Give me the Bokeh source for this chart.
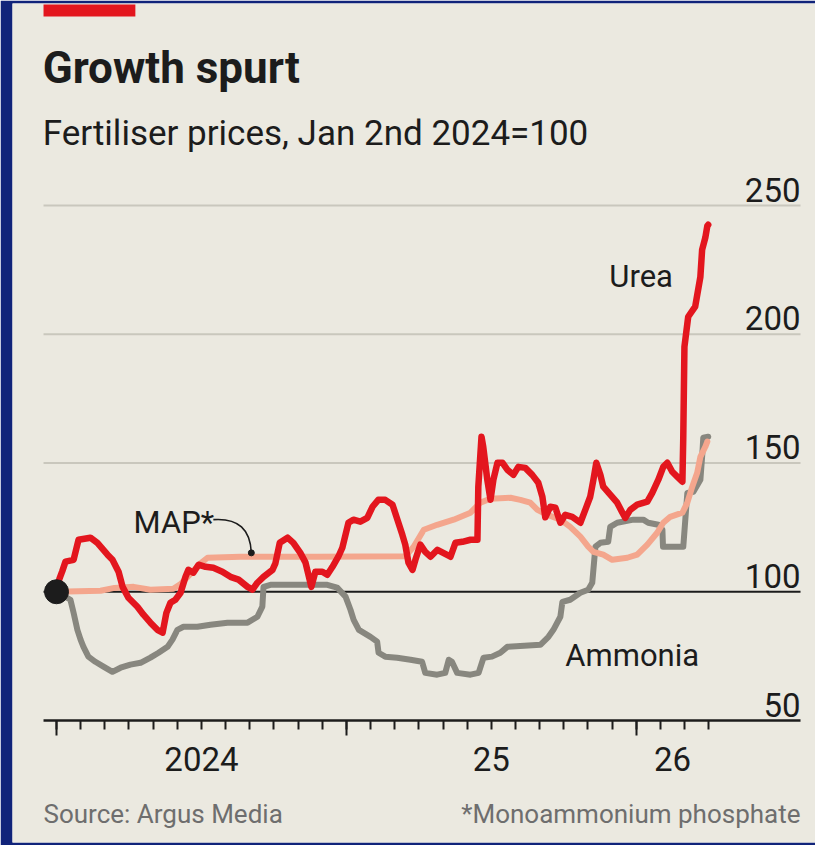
from bokeh.plotting import figure
from bokeh.models import Range1d, FixedTicker, LinearAxis, Label, BoxAnnotation
from bokeh.embed import file_html
from bokeh.resources import INLINE

# ---------------- data (decimal years, index Jan 2nd 2024 = 100) ----------------
urea_t = [2024.000, 2024.010, 2024.020, 2024.031, 2024.059, 2024.076, 2024.117, 2024.141, 2024.176, 2024.193,
          2024.214, 2024.228, 2024.248, 2024.279, 2024.300, 2024.324, 2024.348, 2024.366, 2024.379, 2024.393,
          2024.410, 2024.428, 2024.445, 2024.455, 2024.472, 2024.490, 2024.514, 2024.541, 2024.572, 2024.600,
          2024.628, 2024.659, 2024.676, 2024.693, 2024.714, 2024.745, 2024.755, 2024.770, 2024.797, 2024.817,
          2024.841, 2024.859, 2024.869, 2024.879, 2024.893, 2024.917, 2024.934, 2024.952, 2024.972, 2024.986,
          2025.007, 2025.024, 2025.048, 2025.072, 2025.090, 2025.110, 2025.134, 2025.159, 2025.176, 2025.193,
          2025.203, 2025.214, 2025.228, 2025.238, 2025.255, 2025.272, 2025.290, 2025.314, 2025.334, 2025.359,
          2025.376, 2025.400, 2025.428, 2025.452, 2025.455, 2025.466, 2025.472, 2025.486, 2025.497, 2025.507,
          2025.521, 2025.538, 2025.555, 2025.576, 2025.593, 2025.617, 2025.641, 2025.662, 2025.676, 2025.686,
          2025.703, 2025.721, 2025.738, 2025.755, 2025.779, 2025.807, 2025.824, 2025.841, 2025.852, 2025.862,
          2025.876, 2025.886, 2025.910, 2025.934, 2025.952, 2025.962, 2025.979, 2026.003, 2026.038, 2026.055,
          2026.076, 2026.093, 2026.107, 2026.124, 2026.141, 2026.159, 2026.162, 2026.166, 2026.179, 2026.203,
          2026.221, 2026.227, 2026.238, 2026.245, 2026.248]
urea_v = [100.0, 105.0, 108.0, 111.7, 112.4, 120.2, 121.0, 119.0, 114.4, 112.4,
          107.8, 101.9, 97.7, 94.2, 91.1, 88.0, 85.2, 84.1, 91.8, 95.7,
          96.9, 99.6, 105.8, 108.5, 107.4, 110.5, 109.7, 109.3, 107.8, 105.8,
          104.7, 101.9, 100.8, 103.5, 105.8, 108.5, 111.0, 119.0, 121.0, 119.0,
          115.1, 111.3, 106.6, 101.9, 107.8, 107.8, 106.6, 109.7, 113.6, 117.1,
          126.8, 128.0, 127.2, 128.7, 133.0, 135.7, 135.7, 133.8, 128.0, 122.1,
          118.3, 111.3, 108.5, 112.4, 118.3, 115.5, 113.6, 116.3, 115.1, 113.6,
          119.0, 119.4, 120.2, 120.2, 140.8, 160.2, 156.3, 143.5, 135.7, 143.5,
          150.1, 150.1, 147.4, 145.4, 148.5, 148.1, 145.4, 142.3, 136.9, 128.9,
          133.0, 132.6, 126.8, 129.9, 129.1, 126.8, 131.8, 136.9, 143.5, 150.1,
          145.4, 140.8, 137.7, 134.6, 130.7, 128.7, 131.8, 133.8, 135.0, 138.4,
          143.5, 148.5, 150.1, 146.6, 144.7, 142.7, 160.0, 195.1, 206.8, 210.7,
          222.3, 232.8, 237.5, 242.1, 242.5]

map_t = [2024.000, 2024.152, 2024.200, 2024.266, 2024.324, 2024.403, 2024.428, 2024.452, 2024.497, 2024.521,
         2024.634, 2024.900, 2025.203, 2025.232, 2025.267, 2025.313, 2025.370, 2025.428, 2025.462, 2025.497,
         2025.566, 2025.600, 2025.634, 2025.659, 2025.693, 2025.738, 2025.772, 2025.807, 2025.834, 2025.852,
         2025.886, 2025.917, 2025.969, 2026.003, 2026.038, 2026.072, 2026.093, 2026.117, 2026.159, 2026.176,
         2026.193, 2026.210, 2026.221, 2026.238, 2026.245]
map_v = [100.0, 100.4, 101.5, 101.9, 100.8, 101.2, 103.0, 105.8, 111.0, 113.2,
         113.6, 113.6, 113.8, 117.5, 124.1, 126.0, 128.0, 130.7, 134.6, 136.1,
         136.5, 135.7, 134.6, 131.8, 129.9, 128.0, 125.2, 121.4, 117.5, 115.5,
         114.4, 112.4, 113.2, 114.4, 118.3, 122.9, 126.8, 129.1, 130.7, 134.6,
         140.8, 146.2, 152.4, 156.3, 158.3]

ammonia_t = [2024.000, 2024.048, 2024.059, 2024.072, 2024.083, 2024.093, 2024.110, 2024.134, 2024.162, 2024.193,
             2024.221, 2024.255, 2024.290, 2024.324, 2024.352, 2024.383, 2024.400, 2024.417, 2024.438, 2024.486,
             2024.531, 2024.590, 2024.659, 2024.693, 2024.710, 2024.714, 2024.738, 2024.934, 2024.968, 2024.997,
             2025.014, 2025.025, 2025.043, 2025.083, 2025.106, 2025.111, 2025.134, 2025.175, 2025.221, 2025.261,
             2025.272, 2025.313, 2025.341, 2025.353, 2025.364, 2025.382, 2025.428, 2025.456, 2025.473, 2025.502,
             2025.531, 2025.555, 2025.669, 2025.697, 2025.714, 2025.738, 2025.745, 2025.772, 2025.807, 2025.834,
             2025.848, 2025.855, 2025.859, 2025.876, 2025.903, 2025.910, 2025.934, 2025.990, 2026.024, 2026.041,
             2026.076, 2026.090, 2026.092, 2026.162, 2026.169, 2026.176, 2026.197, 2026.221, 2026.228, 2026.231,
             2026.248]
ammonia_v = [100.0, 96.9, 91.8, 85.2, 81.4, 78.6, 74.8, 72.8, 70.9, 68.9,
             70.5, 71.7, 72.4, 74.4, 76.3, 78.6, 81.4, 85.2, 86.4, 86.4,
             87.2, 88.0, 88.0, 90.3, 94.2, 101.9, 102.7, 102.7, 101.6, 98.1,
             93.0, 89.1, 85.2, 82.5, 80.6, 76.3, 74.8, 74.4, 73.6, 72.8,
             68.5, 67.8, 68.5, 73.6, 72.8, 68.5, 67.8, 68.5, 74.4, 74.8,
             76.3, 78.6, 79.4, 82.5, 85.2, 90.3, 96.1, 96.9, 99.6, 100.8,
             103.5, 112.4, 117.5, 119.0, 119.4, 125.2, 126.8, 128.0, 128.0, 126.8,
             126.0, 124.1, 117.5, 117.5, 128.0, 138.4, 138.8, 143.5, 154.0, 159.8,
             160.2]

y_ticks = [50, 100, 150, 200, 250]
y_tick_labels = ["50", "100", "150", "200", "250"]
grid_values = [150, 200, 250]
baseline_value = 100
year_starts = [2024, 2025, 2026]
year_label_pos = [2024.5, 2025.5, 2026.125]
year_labels = ["2024", "25", "26"]

# ---------------- style ----------------
BG = "#ebe9e0"
FRAME = "#10237a"
INK = "#1c1c1c"
RED = "#e3161e"
SALMON = "#f4a68d"
GREY = "#88877f"
GRID = "#c9c7bd"
FOOT = "#6e6e6e"
FONT = "Roboto"

# ranges: the whole beige panel is the plot frame
X0, X1 = 2023.8482, 2026.6181
Y0, Y1 = 2.62, 328.45
G0, G1 = 2023.9552, 2026.5664   # extent of gridlines / axis line
LABEL_LIFT = 6.2                 # value units: y labels sit above their gridline

p = figure(width=815, height=845, output_backend="svg", toolbar_location=None,
           x_range=Range1d(X0, X1), y_range=Range1d(Y0, Y1),
           min_border_left=12, min_border_right=0, min_border_top=3, min_border_bottom=3,
           background_fill_color=BG, border_fill_color=FRAME, outline_line_color=None)
p.title.visible = False
p.xgrid.visible = False
p.ygrid.visible = False

# gridlines and baseline
p.segment(x0=[G0] * len(grid_values), x1=[G1] * len(grid_values), y0=grid_values, y1=grid_values,
          line_color=GRID, line_width=2)
p.segment(x0=[G0], x1=[G1], y0=[baseline_value], y1=[baseline_value], line_color=INK, line_width=2)
p.segment(x0=[G0], x1=[G1], y0=[y_ticks[0]], y1=[y_ticks[0]], line_color=INK, line_width=2.5)

# y axis: labels inside plot at right edge, sitting on gridlines
y_label_pos = [v + LABEL_LIFT for v in y_ticks]
yax = p.yaxis[0]
yax.ticker = FixedTicker(ticks=y_label_pos)
yax.major_label_overrides = dict(zip(y_label_pos, y_tick_labels))
yax.fixed_location = G1
yax.axis_line_color = None
yax.major_tick_line_color = None
yax.minor_tick_line_color = None
yax.major_tick_out = 0
yax.major_tick_in = 0
yax.major_label_standoff = 0
yax.major_label_text_font = FONT
yax.major_label_text_font_size = "33px"
yax.major_label_text_color = INK

# x axis A: ticks only (monthly short, yearly long)
month_ticks = [2024 + k / 12 for k in range(0, 28)]
xa = p.xaxis[0]
xa.fixed_location = y_ticks[0]
xa.ticker = FixedTicker(ticks=year_starts, minor_ticks=month_ticks)
xa.axis_line_color = None
xa.major_tick_out = 15
xa.major_tick_in = 0
xa.major_tick_line_color = INK
xa.major_tick_line_width = 2
xa.minor_tick_out = 9
xa.minor_tick_in = 0
xa.minor_tick_line_color = INK
xa.minor_tick_line_width = 2
xa.major_label_text_font_size = "0px"
xa.major_label_text_color = None
xa.major_label_standoff = 0

# x axis B: year labels centred on each year
xb = LinearAxis(ticker=FixedTicker(ticks=year_label_pos),
                major_label_overrides=dict(zip(year_label_pos, year_labels)))
xb.fixed_location = y_ticks[0]
xb.axis_line_color = None
xb.major_tick_line_color = None
xb.minor_tick_line_color = None
xb.major_tick_out = 0
xb.major_tick_in = 0
xb.minor_tick_out = 0
xb.major_label_standoff = 27
xb.major_label_text_font = FONT
xb.major_label_text_font_size = "33px"
xb.major_label_text_color = INK
p.add_layout(xb, "below")

# series
p.line(ammonia_t, ammonia_v, line_color=GREY, line_width=6, line_join="round", line_cap="round")
p.line(map_t, map_v, line_color=SALMON, line_width=6, line_join="round", line_cap="round")
p.line(urea_t, urea_v, line_color=RED, line_width=6.5, line_join="round", line_cap="round")
p.scatter([urea_t[0]], [urea_v[0]], size=24, color=INK)

# MAP* connector
p.bezier(x0=[2024.541], y0=[128.0], x1=[2024.672], y1=[115.1],
         cx0=[2024.628], cy0=[128.7], cx1=[2024.669], cy1=[124.1],
         line_color=INK, line_width=1.6)
p.scatter([2024.672], [115.1], size=6, color=INK)

def label(text, x, y, size, color=INK, style="normal", align="left"):
    p.add_layout(Label(x=x, y=y, text=text, text_font=FONT, text_font_size=size,
                       text_color=color, text_font_style=style, text_align=align,
                       text_baseline="alphabetic"))

label("Urea", 2025.907, 222.4, "31px")
label("Ammonia", 2025.755, 75.2, "31px")
label("MAP*", 2024.266, 127.0, "31px")

# header / footer
p.add_layout(BoxAnnotation(left=G0, right=2024.272, bottom=323.40, top=328.06,
                           fill_color=RED, fill_alpha=1, line_color=None))
label("Growth spurt", G0 - 0.003, 303.5, "44px", style="bold")
label("Fertiliser prices, Jan 2nd 2024=100", G0 - 0.003, 278.0, "35px")
label("Source: Argus Media", G0, 13.6, "26px", color=FOOT)
label("*Monoammonium phosphate", G1, 13.6, "26px", color=FOOT, align="right")

open("out.html", "w").write(file_html(p, INLINE))
